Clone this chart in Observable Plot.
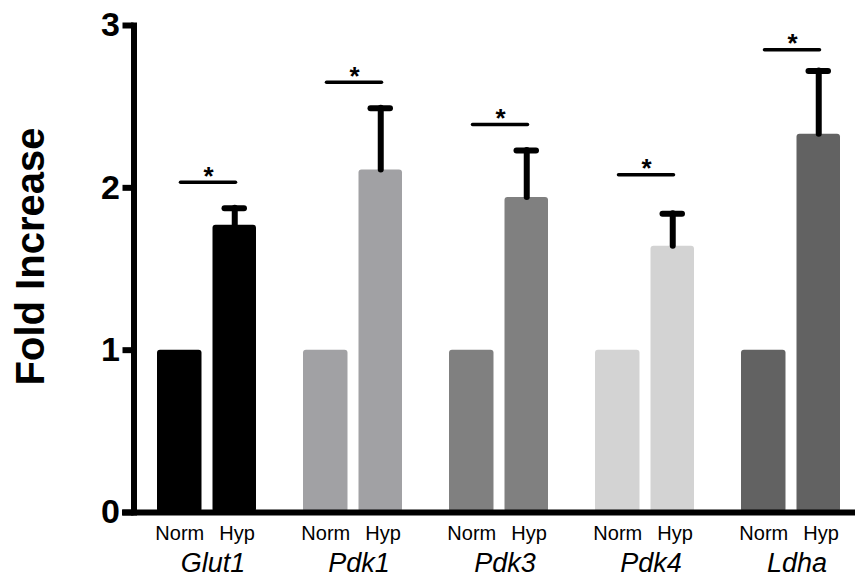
<!DOCTYPE html>
<html><head><meta charset="utf-8">
<script src="https://cdn.jsdelivr.net/npm/d3@7"></script>
<script src="https://cdn.jsdelivr.net/npm/@observablehq/plot@0.6"></script>
<style>body{margin:0;background:#fff;}</style>
</head><body><div id="chart"></div>
<script>
const genes = ["Glut1", "Pdk1", "Pdk3", "Pdk4", "Ldha"];
const conditions = ["Norm", "Hyp"];
const normValues = [1, 1, 1, 1, 1];
const hypValues = [1.77, 2.11, 1.94, 1.64, 2.33];
const hypErrors = [0.105, 0.38, 0.29, 0.20, 0.39];
const sigLevels = [2.035, 2.65, 2.39, 2.08, 2.85];
const sigMarks = ["*", "*", "*", "*", "*"];
const geneColors = ["#000000", "#a1a1a4", "#808080", "#d3d3d3", "#626262"];
const yTicks = [0, 1, 2, 3];
const yTickLabels = ["0", "1", "2", "3"];
const yLabel = "Fold Increase";

const rows = genes.map((g, i) => ({
  gene: g, norm: normValues[i], hyp: hypValues[i], err: hypErrors[i],
  sig: sigLevels[i], mark: sigMarks[i]
}));

const chart = Plot.plot({
  width: 855, height: 578,
  marginLeft: 133.5, marginRight: 0, marginTop: 25, marginBottom: 66,
  style: {fontFamily: "'Liberation Sans', Arial, Helvetica, sans-serif", background: "white", color: "black"},
  x: {domain: genes, paddingInner: 0.2466, paddingOuter: 0.0942, align: 0.6545, round: false, axis: null},
  y: {domain: [0, 3], axis: null},
  color: {domain: genes, range: geneColors},
  marks: [
    Plot.barY(rows, {x: "gene", y: "norm", fill: "gene", insetLeft: 5.5, insetRight: 60, rx: 3}),
    Plot.barY(rows, {x: "gene", y: "hyp", fill: "gene", insetLeft: 61, insetRight: 5.5, rx: 3}),
    Plot.ruleX(rows, {x: "gene", y1: "hyp", y2: d => d.hyp + d.err, dx: 27.75, stroke: "black", strokeWidth: 6, strokeLinecap: "round"}),
    Plot.tickY(rows, {x: "gene", y: d => d.hyp + d.err, insetLeft: 73, insetRight: 17.5, stroke: "black", strokeWidth: 6, strokeLinecap: "round"}),
    Plot.tickY(rows, {x: "gene", y: "sig", insetLeft: 29, insetRight: 26, stroke: "black", strokeWidth: 3.5, strokeLinecap: "round"}),
    Plot.text(rows, {x: "gene", y: "sig", text: "mark", dx: 1.5, dy: 2.5, lineAnchor: "bottom", fontSize: 26, fontWeight: "bold"}),
    Plot.axisY({ticks: yTicks, tickFormat: (d, i) => yTickLabels[yTicks.indexOf(d)], tickSize: 11, tickPadding: 3, fontSize: 34, fontWeight: "bold", strokeWidth: 6, label: null}),
    Plot.frame({anchor: "left", stroke: "black", strokeWidth: 6, strokeLinecap: "square"}),
    Plot.ruleY([0], {insetLeft: -11.5, stroke: "black", strokeWidth: 6}),
    Plot.text(rows, {x: "gene", text: () => conditions[0], frameAnchor: "bottom", dx: -27.25, dy: 27.5, lineAnchor: "bottom", fontSize: 20}),
    Plot.text(rows, {x: "gene", text: () => conditions[1], frameAnchor: "bottom", dx: 30, dy: 27.5, lineAnchor: "bottom", fontSize: 20}),
    Plot.text(rows, {x: "gene", text: "gene", frameAnchor: "bottom", dx: 6, dy: 59.7, lineAnchor: "bottom", fontSize: 27, fontStyle: "italic"}),
    Plot.text([yLabel], {frameAnchor: "left", rotate: -90, dx: -102.5, dy: -12.5, textAnchor: "middle", lineAnchor: "middle", fontSize: 40, fontWeight: "bold"})
  ]
});
document.getElementById("chart").appendChild(chart);
</script>
</body></html>
